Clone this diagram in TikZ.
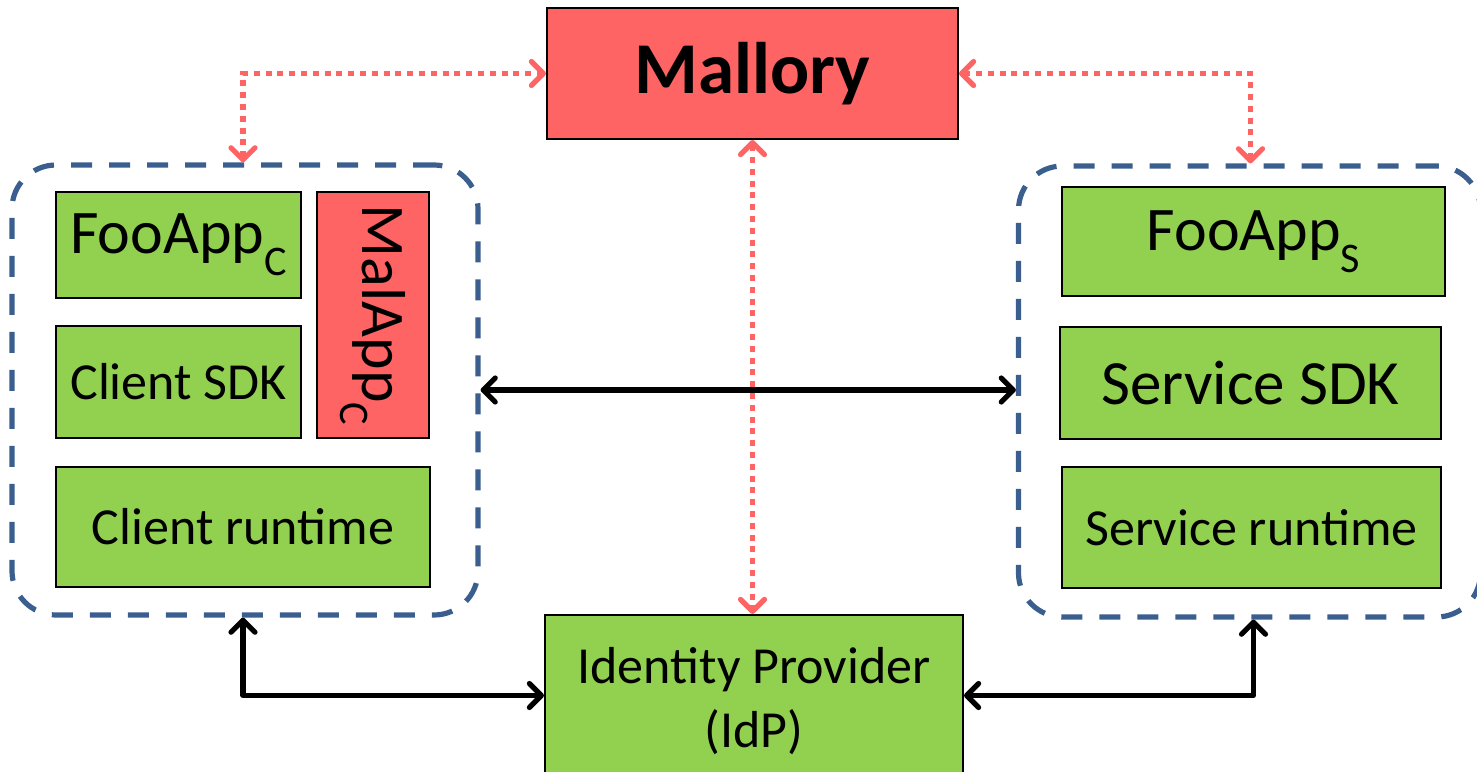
\documentclass[tikz,border=0pt]{standalone}
\usepackage{fontspec}
\setmainfont{Carlito}
\usepackage{graphicx}
\usetikzlibrary{arrows.meta,calc}
\definecolor{boxgreen}{HTML}{92D050}
\definecolor{malred}{HTML}{FF6464}
\definecolor{contblue}{HTML}{3A5F8E}
\newcommand\lowsub[1]{\raisebox{-0.36em}{\scalebox{0.68}{#1}}}
\begin{document}
\begin{tikzpicture}[x=0.5pt,y=-0.5pt,
  box/.style={draw=black, line width=1pt, fill=boxgreen, inner sep=0pt, align=center},
  malbox/.style={box, fill=malred},
  cont/.style={draw=contblue, line width=2.6pt, dash pattern=on 10.5pt off 8.5pt, rounded corners=22pt, inner sep=0pt},
  redlink/.style={draw=malred, line width=2.6pt, dash pattern=on 3pt off 2.9pt,
    {Straight Barb[length=6pt,width=12pt,round]}-{Straight Barb[length=6pt,width=12pt,round]}},
  blacklink/.style={draw=black, line width=2.6pt, line join=round, line cap=round,
    {Straight Barb[length=6pt,width=12pt,round]}-{Straight Barb[length=6pt,width=12pt,round]}},
  fbig/.style={font=\fontsize{31pt}{37pt}\selectfont},
  fmid/.style={font=\fontsize{31.5pt}{37pt}\selectfont},
  fsmall/.style={font=\fontsize{26pt}{32pt}\selectfont},
  fmal/.style={font=\fontsize{36.5pt}{44pt}\selectfont\bfseries}
]
\useasboundingbox (0,0) rectangle (1477,771);
\clip (0,0) rectangle (1477,771);

% containers
\node[cont, minimum width=233pt, minimum height=225pt] (lcont) at (245,390) {};
\node[cont, minimum width=231pt, minimum height=225.5pt] (rcont) at (1249.5,391.5) {};

% Mallory
\node[malbox, fmal, minimum width=205.5pt, minimum height=65.5pt] (mallory) at (752.5,73.5) {Mallory};

% client side
\node[box, fbig, minimum width=122.5pt, minimum height=53pt] (fooc) at (178.5,245) {FooApp\lowsub{C}};
\node[box, fsmall, minimum width=122.5pt, minimum height=56pt] (csdk) at (178.5,382) {Client SDK};
\node[malbox, minimum width=56pt, minimum height=123pt] (malc) at (373,315) {};
\node[fbig, rotate=-90, inner sep=0pt] (malctext) at (malc.center) {MalApp\lowsub{C}};
\node[box, fsmall, minimum width=187pt, minimum height=60pt] (crt) at (243,527) {Client runtime};

% service side
\node[box, fbig, minimum width=191.5pt, minimum height=54.5pt] (foos) at (1253.5,241.5) {FooApp\lowsub{S}};
\node[box, fmid, minimum width=190.5pt, minimum height=56pt] (ssdk) at (1250.5,383) {Service SDK};
\node[box, fsmall, minimum width=189.5pt, minimum height=60.5pt] (srt) at (1251.5,527.5) {Service runtime};

% identity provider
\node[box, minimum width=209pt, minimum height=80.5pt] (idp) at (754,695.5) {};
\node[fsmall, align=center, inner sep=0pt] (idptext) at (754,701) {Identity Provider\\(IdP)};

% connectors
\draw[redlink] (lcont.north -| crt) |- (mallory.west);
\draw[redlink] (mallory.east) -| (rcont.north -| ssdk);
\draw[redlink] (mallory.south) -- (mallory.south |- idp.north);
\draw[blacklink] (lcont.east) -- (lcont.east -| rcont.west);
\draw[blacklink] (lcont.south -| crt) |- (idp.west);
\draw[blacklink] (idp.east) -| (rcont.south -| foos);
\end{tikzpicture}
\end{document}
